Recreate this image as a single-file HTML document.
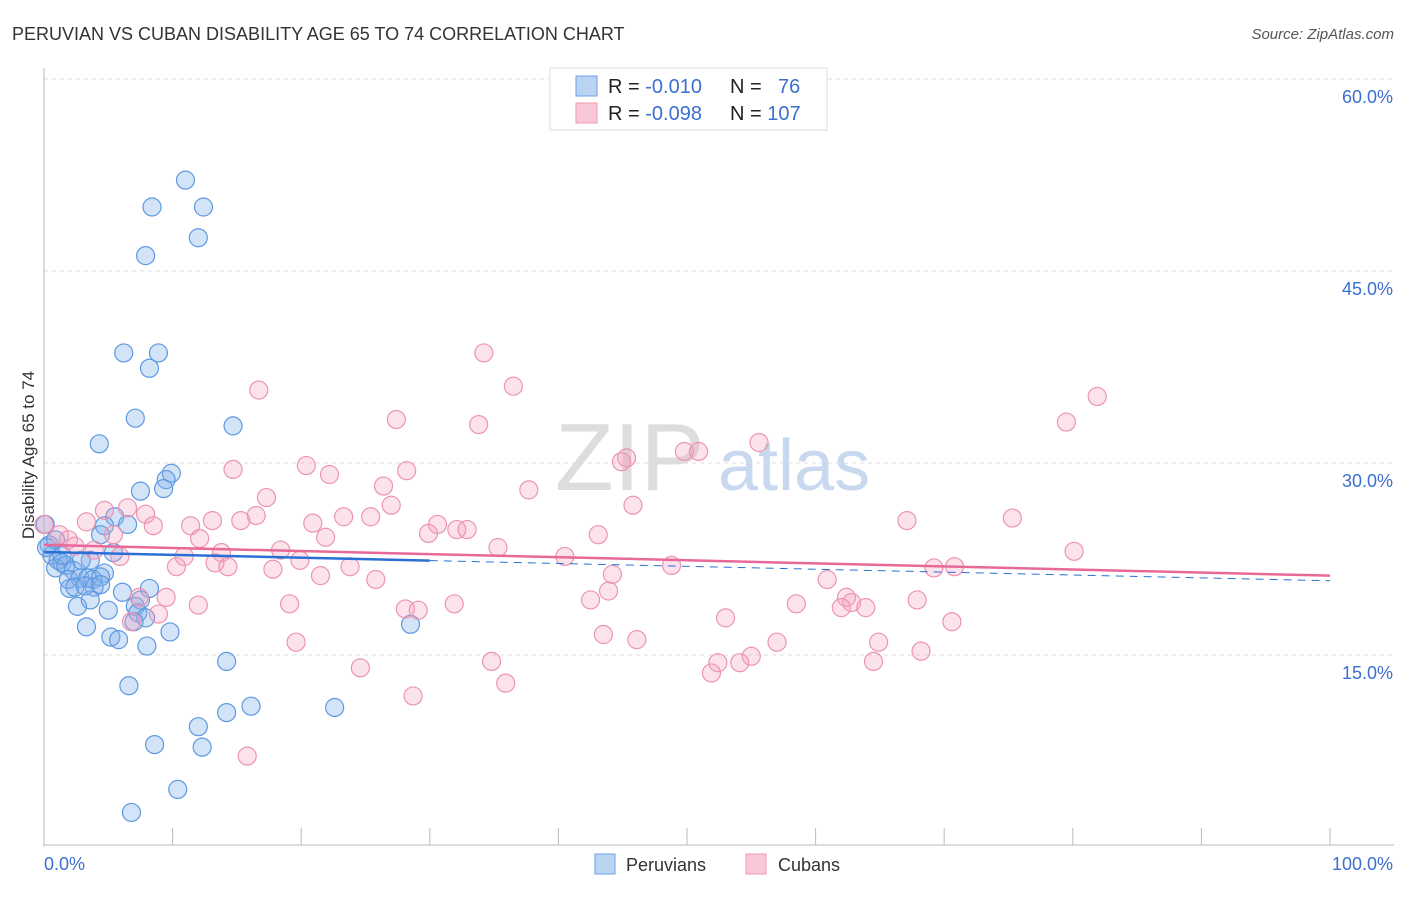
<!DOCTYPE html>
<html><head><meta charset="utf-8"><style>
body{margin:0;background:#fff;font-family:"Liberation Sans",sans-serif;}
svg text{font-family:"Liberation Sans",sans-serif;}
</style></head><body>
<svg id="c" width="1406" height="892" xmlns="http://www.w3.org/2000/svg">
<text x="12" y="40" font-size="18" fill="#333">PERUVIAN VS CUBAN DISABILITY AGE 65 TO 74 CORRELATION CHART</text>
<text x="1394" y="39" font-size="15" fill="#555" font-style="italic" text-anchor="end">Source: ZipAtlas.com</text>
<text x="0" y="0" transform="translate(34,455) rotate(-90)" font-size="17" fill="#333" text-anchor="middle">Disability Age 65 to 74</text>
<text x="555" y="490" font-size="96" fill="#ddd" font-family="Liberation Serif">ZIP</text>
<text x="718" y="490" font-size="72" fill="#c8d8ef">atlas</text>
<g id="grid"></g>
<g id="pts"></g>
<g id="lines"></g>
<g>
<rect x="550" y="68" width="277" height="62" fill="#fff" stroke="#ddd"/>
<rect x="576" y="76" width="21" height="20" fill="#b9d3f3" stroke="#6ea2e3"/>
<rect x="576" y="103" width="21" height="20" fill="#f8c8d6" stroke="#ee9ab4"/>
<text x="608" y="93" font-size="20" fill="#222">R = <tspan fill="#3b6fd0">-0.010</tspan></text>
<text x="730" y="93" font-size="20" fill="#222">N = <tspan fill="#3b6fd0" x="778">76</tspan></text>
<text x="608" y="120" font-size="20" fill="#222">R = <tspan fill="#3b6fd0">-0.098</tspan></text>
<text x="730" y="120" font-size="20" fill="#222">N = <tspan fill="#3b6fd0">107</tspan></text>
</g>
<g>
<rect x="595" y="854" width="20" height="20" fill="#b9d3f3" stroke="#6ea2e3"/>
<text x="626" y="871" font-size="18" fill="#333">Peruvians</text>
<rect x="746" y="854" width="20" height="20" fill="#f8c8d6" stroke="#ee9ab4"/>
<text x="778" y="871" font-size="18" fill="#333">Cubans</text>
</g>
</svg>
<script>
const yTicks=[15,30,45,60];
const yTickLabels=["15.0%","30.0%","45.0%","60.0%"];
const xTickLabels=["0.0%","100.0%"];
const peruX=[11.0,8.4,12.4,12.0,7.9,6.2,8.9,8.2,7.1,14.7,4.3,9.9,9.5,9.3,7.5,5.5,4.7,6.5,4.4,0.1,0.4,0.6,1.1,1.4,0.9,1.7,3.6,2.3,5.4,4.7,1.9,2.8,3.4,3.8,4.4,2.0,3.9,8.2,6.1,3.6,2.6,5.0,7.5,7.1,7.3,7.9,3.3,7.0,28.5,5.2,5.8,9.8,8.0,14.2,6.6,16.1,14.2,22.6,12.0,8.6,12.3,10.4,6.8,0.2,0.9,1.4,2.4,3.2,4.4,2.9];
const peruY=[52.1,50.0,50.0,47.6,46.2,38.6,38.6,37.4,33.5,32.9,31.5,29.2,28.7,28.0,27.8,25.8,25.1,25.2,24.4,25.2,23.6,22.8,22.4,22.2,21.8,22.0,22.4,21.6,23.0,21.4,20.9,21.0,21.0,20.9,21.1,20.2,20.3,20.2,19.9,19.3,18.8,18.5,19.3,18.8,18.3,17.9,17.2,17.6,17.4,16.4,16.2,16.8,15.7,14.5,12.6,11.0,10.5,10.9,9.4,8.0,7.8,4.5,2.7,23.4,24.0,22.8,20.3,20.4,20.5,22.4];
const cubaX=[34.2,36.5,16.7,81.9,27.4,33.8,79.5,55.6,49.8,50.9,45.3,44.9,20.4,14.7,28.2,22.2,26.4,37.7,17.3,27.0,45.8,4.7,6.5,7.9,16.5,23.3,25.4,13.1,15.3,8.5,20.9,30.6,11.4,32.1,32.9,67.1,75.3,3.3,1.2,1.9,12.1,21.9,29.9,43.1,5.4,2.4,3.9,35.3,18.4,13.8,5.9,10.9,80.1,40.5,19.9,13.3,14.3,10.3,17.8,23.8,48.8,69.2,70.8,21.5,25.8,44.2,60.9,43.9,42.5,7.4,9.5,62.4,62.8,67.9,19.1,28.1,29.1,31.9,58.5,12.0,62.0,63.9,8.9,53.0,70.6,6.8,43.5,46.1,19.6,57.0,64.9,68.2,55.0,52.4,54.1,64.5,34.8,24.6,51.9,35.9,28.7,15.8,0.0];
const cubaY=[38.6,36.0,35.7,35.2,33.4,33.0,33.2,31.6,30.9,30.9,30.4,30.1,29.8,29.5,29.4,29.1,28.2,27.9,27.3,26.7,26.7,26.3,26.5,26.0,25.9,25.8,25.8,25.5,25.5,25.1,25.3,25.2,25.1,24.8,24.8,25.5,25.7,25.4,24.4,24.0,24.1,24.2,24.5,24.4,24.4,23.5,23.2,23.4,23.2,23.0,22.7,22.7,23.1,22.7,22.4,22.2,21.9,21.9,21.7,21.9,22.0,21.8,21.9,21.2,20.9,21.3,20.9,20.0,19.3,19.5,19.5,19.5,19.1,19.3,19.0,18.6,18.5,19.0,19.0,18.9,18.7,18.7,18.2,17.9,17.6,17.6,16.6,16.2,16.0,16.0,16.0,15.3,14.9,14.4,14.4,14.5,14.5,14.0,13.6,12.8,11.8,7.1,25.2];
const peruTrend=[23.05,20.8];
const cubaTrend=[23.6,21.2];
const NS="http://www.w3.org/2000/svg";
const X0=44,X1=1330,YB=847,YPX=12.8;
const xs=v=>X0+v*(X1-X0)/100;
const ys=v=>YB-v*YPX;
function mk(t,a,p){const e=document.createElementNS(NS,t);for(const k in a)e.setAttribute(k,a[k]);p.appendChild(e);return e;}
const grid=document.getElementById('grid');
yTicks.forEach((t,i)=>{
 const l=mk('line',{x1:X0,x2:1394,y1:ys(t),y2:ys(t),stroke:'#ddd','stroke-dasharray':'4,4'},grid);
 
 
 const tx=mk('text',{x:1393,y:ys(t)+24,'font-size':18,fill:'#3b6fd0','text-anchor':'end'},grid);
 tx.textContent=yTickLabels[i];
 
 
});
const ax=mk('line',{x1:X0,x2:X0,y1:68,y2:YB,stroke:'#bbb'},grid);


const bx=mk('line',{x1:X0,x2:1394,y1:845,y2:845,stroke:'#bbb'},grid);


for(let i=0;i<=10;i++){
 const t=mk('line',{x1:xs(i*10),x2:xs(i*10),y1:828,y2:845,stroke:'#bbb'},grid);
 
 
}
[[0,'start',X0],[100,'end',1393]].forEach((d,i)=>{
 const tx=mk('text',{x:d[2],y:870,'font-size':18,fill:'#3b6fd0','text-anchor':d[1]},grid);
 tx.textContent=xTickLabels[i];
 
 
});
const pts=document.getElementById('pts');
peruX.forEach((v,i)=>{
 const c=mk('circle',{cx:xs(v),cy:ys(peruY[i]),r:9,fill:'rgba(130,175,235,0.35)',stroke:'#5d99e0','stroke-width':1.2},pts);
 
 
});
cubaX.forEach((v,i)=>{
 const c=mk('circle',{cx:xs(v),cy:ys(cubaY[i]),r:9,fill:'rgba(245,160,190,0.3)',stroke:'#ec94b2','stroke-width':1.2},pts);
 
 
});
const lines=document.getElementById('lines');
const pAt=v=>peruTrend[0]+(peruTrend[1]-peruTrend[0])*v/100;
const l1=mk('line',{x1:xs(0),y1:ys(pAt(0)),x2:xs(30),y2:ys(pAt(30)),stroke:'#2a6fd6','stroke-width':2.5},lines);


const l2=mk('line',{x1:xs(30),y1:ys(pAt(30)),x2:xs(100),y2:ys(pAt(100)),stroke:'#2a6fd6','stroke-width':1,'stroke-dasharray':'8,6'},lines);


const l3=mk('line',{x1:xs(0),y1:ys(cubaTrend[0]),x2:xs(100),y2:ys(cubaTrend[1]),stroke:'#e8689a','stroke-width':2.5},lines);


</script>
</body></html>
